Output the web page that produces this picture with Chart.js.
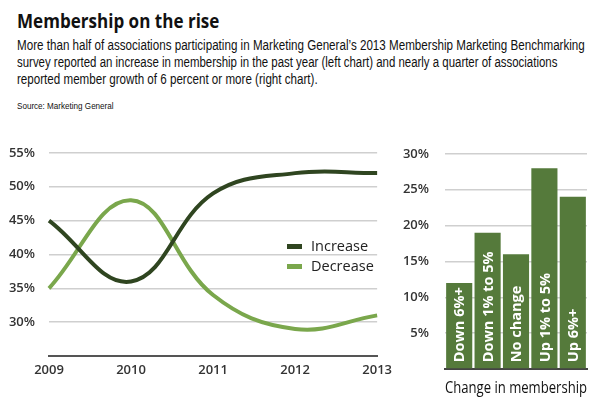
<!DOCTYPE html>
<html><head><meta charset="utf-8">
<script src="https://cdn.jsdelivr.net/npm/chart.js@4"></script>
<style>
body{margin:0;width:600px;height:400px;background:#fff;position:relative;overflow:hidden;font-family:'Open Sans',sans-serif;color:#111}
.t{position:absolute;left:17px;white-space:nowrap;transform-origin:0 0;line-height:1}
#title{font-weight:700;font-size:19.5px;top:11px}
.sub{font-family:'Liberation Sans Narrow','Liberation Sans',sans-serif;font-size:14px}
#s1{top:38px}#s2{top:55px}#s3{top:72px}
#src{font-family:'Liberation Sans Narrow','Liberation Sans',sans-serif;font-size:9.5px;top:101px}
#c1wrap{position:absolute;left:0;top:131px;width:398px;height:249px}
#c2wrap{position:absolute;left:395px;top:130px;width:205px;height:270px}
#legend{position:absolute;left:287px;top:236px;font-size:14.5px;line-height:20px;color:#222}
#legend .it{display:flex;align-items:center;height:20px}
#legend .mk{width:15px;height:5px;margin-right:9px}
</style></head>
<body>
<div class="t" id="title" data-w="202">Membership on the rise</div>
<div class="t sub" id="s1" data-w="568">More than half of associations participating in Marketing General’s 2013 Membership Marketing Benchmarking</div>
<div class="t sub" id="s2" data-w="540">survey reported an increase in membership in the past year (left chart) and nearly a quarter of associations</div>
<div class="t sub" id="s3" data-w="301">reported member growth of 6 percent or more (right chart).</div>
<div class="t" id="src" data-w="97">Source: Marketing General</div>
<div id="c1wrap"><canvas id="c1"></canvas></div>
<div id="c2wrap"><canvas id="c2"></canvas></div>
<div id="legend"></div>
<script>
const years = ['2009', '2010', '2011', '2012', '2013'];
const increaseVals = [45, 36, 49, 52, 52];
const decreaseVals = [35, 48, 34, 29, 31];
const seriesNames = ['Increase', 'Decrease'];
const changeCats = ['Down 6%+', 'Down 1% to 5%', 'No change', 'Up 1% to 5%', 'Up 6%+'];
const changeVals = [12, 19, 16, 28, 24];
const axisTitle = 'Change in membership';

const darkGreen = '#2f4520';
const lightGreen = '#7aa74c';
const barGreen = '#557a3b';

document.querySelectorAll('.t').forEach(el => {
  const target = parseFloat(el.dataset.w);
  const w = el.scrollWidth;
  el.style.transform = 'scaleX(' + (target / w) + ')';
});

const tickFont = {family: "'Open Sans', sans-serif", size: 13, weight: '600'};

new Chart(document.getElementById('c1'), {
  type: 'line',
  data: {
    labels: years,
    datasets: [
      {label: seriesNames[0], data: increaseVals, borderColor: darkGreen, backgroundColor: darkGreen},
      {label: seriesNames[1], data: decreaseVals, borderColor: lightGreen, backgroundColor: lightGreen}
    ]
  },
  options: {
    responsive: true, maintainAspectRatio: false, animation: false,
    layout: {padding: {top: 3, right: 0, left: 0, bottom: 0}},
    elements: {line: {borderWidth: 4, tension: 0.4}, point: {radius: 0}},
    plugins: {legend: {display: false}, tooltip: {enabled: false}},
    scales: {
      x: {
        grid: {display: false, drawTicks: false},
        border: {display: true, color: '#555', width: 2},
        ticks: {font: tickFont, color: '#333', padding: 6, maxRotation: 0},
        afterFit: s => { s.height = 24; }
      },
      y: {
        min: 25, max: 55,
        grid: {drawTicks: false, color: c => c.tick && c.tick.value === 25 ? 'rgba(0,0,0,0)' : '#cfcfcf', lineWidth: 1.5},
        border: {display: false},
        ticks: {stepSize: 5, font: tickFont, color: '#333', padding: 14,
          callback: v => v === 25 ? '' : v + '%'},
        afterFit: s => { s.width = 49; }
      }
    }
  }
});

const lg = document.getElementById('legend');
[[seriesNames[0], darkGreen], [seriesNames[1], lightGreen]].forEach(([n, c]) => {
  const d = document.createElement('div'); d.className = 'it';
  d.innerHTML = '<span class="mk" style="background:' + c + '"></span><span>' + n + '</span>';
  lg.appendChild(d);
});

const barLabels = {
  id: 'barLabels',
  afterDatasetsDraw(chart) {
    const ctx = chart.ctx;
    const meta = chart.getDatasetMeta(0);
    ctx.save();
    ctx.fillStyle = '#fff';
    ctx.font = "700 14.5px 'Open Sans', sans-serif";
    ctx.textAlign = 'left';
    ctx.textBaseline = 'middle';
    meta.data.forEach((bar, i) => {
      ctx.save();
      ctx.translate(bar.x + 1, bar.base - 6);
      ctx.rotate(-Math.PI / 2);
      ctx.fillText(chart.data.labels[i], 0, 0);
      ctx.restore();
    });
    ctx.restore();
  }
};

new Chart(document.getElementById('c2'), {
  type: 'bar',
  data: {
    labels: changeCats,
    datasets: [{data: changeVals, backgroundColor: barGreen, barPercentage: 0.92, categoryPercentage: 1}]
  },
  options: {
    responsive: true, maintainAspectRatio: false, animation: false,
    layout: {padding: {top: 3, right: 13, left: 0, bottom: 0}},
    plugins: {legend: {display: false}, tooltip: {enabled: false}},
    scales: {
      x: {
        grid: {display: false, drawTicks: false},
        border: {display: true, color: '#444', width: 2},
        ticks: {display: false},
        title: {display: true, text: axisTitle, color: '#111', font: {family: "'Open Sans', sans-serif", size: 16}, padding: {top: 0, bottom: 2}},
        afterFit: s => { s.height = 31; }
      },
      y: {
        min: 0, max: 30,
        grid: {drawTicks: false, color: c => c.tick && c.tick.value === 0 ? 'rgba(0,0,0,0)' : '#cfcfcf', lineWidth: 1.5},
        border: {display: false},
        ticks: {stepSize: 5, font: tickFont, color: '#333', padding: 16,
          callback: v => v === 0 ? '' : v + '%'},
        afterFit: s => { s.width = 50; }
      }
    }
  },
  plugins: [barLabels]
});
</script>
</body></html>
